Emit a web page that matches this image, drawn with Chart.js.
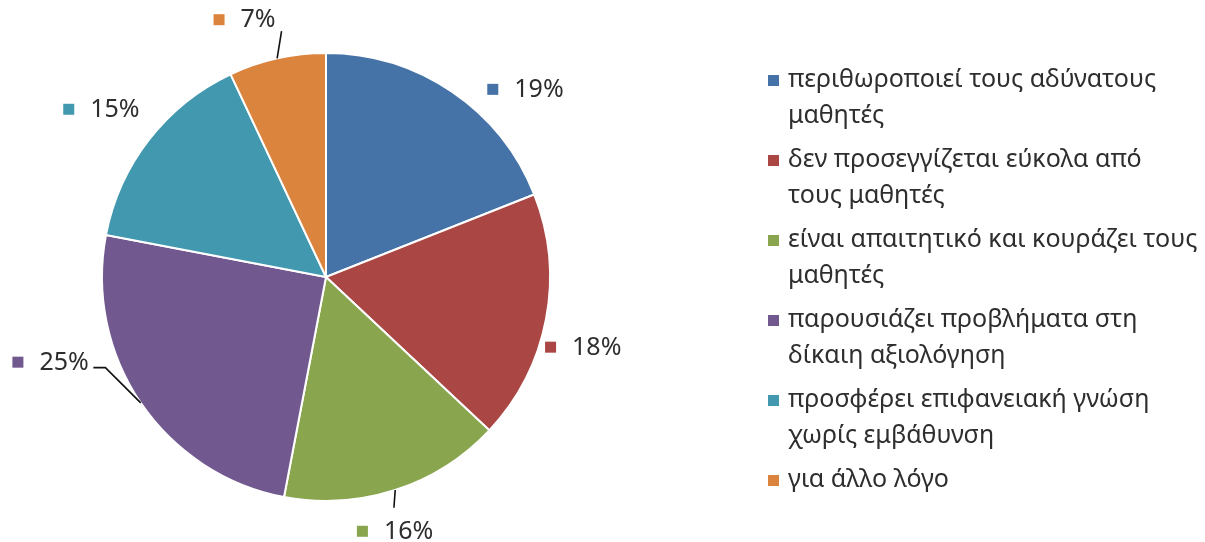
<!DOCTYPE html>
<html>
<head>
<meta charset="utf-8">
<script src="https://cdn.jsdelivr.net/npm/chart.js@4/dist/chart.umd.min.js"></script>
<style>
  html, body { margin: 0; padding: 0; background: #ffffff; }
  #wrap { position: relative; width: 1205px; height: 542px; }
</style>
</head>
<body>
<div id="wrap"><canvas id="pie"></canvas></div>
<script>
// Reasons, in slice order (clockwise from 12 o'clock); "\n" marks the legend line break
const categories = [
  'περιθωροποιεί τους αδύνατους\nμαθητές',
  'δεν προσεγγίζεται εύκολα από\nτους μαθητές',
  'είναι απαιτητικό και κουράζει τους\nμαθητές',
  'παρουσιάζει προβλήματα στη\nδίκαιη αξιολόγηση',
  'προσφέρει επιφανειακή γνώση\nχωρίς εμβάθυνση',
  'για άλλο λόγο'
];
// Percentage share of each reason
const shares = [19, 18, 16, 25, 15, 7];
// Slice colours
const sliceColors = ['#4572A7', '#AA4643', '#89A54E', '#71588F', '#4198AF', '#DB843D'];

// Where each percentage label sits, relative to the pie centre (in radii),
// plus optional leader-line points given in pixels from the label anchor.
const labelSpots = [
  { dx: 0.72,   dy: -0.84 },
  { dx: 0.978,  dy: 0.311 },
  { dx: 0.138,  dy: 1.133, leader: [[37, -23]] },
  { dx: -1.40,  dy: 0.378, leader: [[93, 6], [81, 6]] },
  { dx: -1.173, dy: -0.751 },
  { dx: -0.502, dy: -1.151, leader: [[68, 12]] }
];

const FONT = '"Noto Sans", "DejaVu Sans", sans-serif';
const FONT_SIZE = 25;
const TEXT_COLOR = '#2e2e2e';

const sliceLabels = {
  id: 'sliceLabels',
  afterDatasetsDraw(chart) {
    const ctx = chart.ctx;
    const meta = chart.getDatasetMeta(0);
    const colors = chart.data.datasets[0].backgroundColor;
    const values = chart.data.datasets[0].data;
    ctx.save();
    meta.data.forEach((arc, i) => {
      const p = arc.getProps(['x', 'y', 'startAngle', 'endAngle', 'outerRadius'], true);
      const mid = (p.startAngle + p.endAngle) / 2;
      const spot = labelSpots[i];
      const ax = p.x + spot.dx * p.outerRadius;
      const ay = p.y + spot.dy * p.outerRadius;
      if (spot.leader) {
        ctx.beginPath();
        ctx.moveTo(p.x + Math.cos(mid) * p.outerRadius, p.y + Math.sin(mid) * p.outerRadius);
        spot.leader.forEach(pt => ctx.lineTo(ax + pt[0], ay + pt[1]));
        ctx.strokeStyle = '#111111';
        ctx.lineWidth = 1.6;
        ctx.stroke();
      }
      ctx.fillStyle = colors[i];
      ctx.fillRect(ax, ay - 5, 11, 11);
      ctx.fillStyle = TEXT_COLOR;
      ctx.font = FONT_SIZE + 'px ' + FONT;
      ctx.textAlign = 'left';
      ctx.textBaseline = 'middle';
      ctx.fillText(values[i] + '%', ax + 27, ay + 1);
    });
    ctx.restore();
  }
};

const sideLegend = {
  id: 'sideLegend',
  afterDraw(chart) {
    const ctx = chart.ctx;
    const colors = chart.data.datasets[0].backgroundColor;
    const left = 768, textLeft = 788, lineH = 36, entryGap = 8;
    let y = 80;
    ctx.save();
    ctx.font = FONT_SIZE + 'px ' + FONT;
    ctx.textAlign = 'left';
    ctx.textBaseline = 'middle';
    chart.data.labels.forEach((label, i) => {
      const lines = label.split('\n');
      ctx.fillStyle = colors[i];
      ctx.fillRect(left, y - 5, 11, 11);
      ctx.fillStyle = TEXT_COLOR;
      lines.forEach((ln, k) => ctx.fillText(ln, textLeft, y + k * lineH));
      y += lines.length * lineH + entryGap;
    });
    ctx.restore();
  }
};

new Chart(document.getElementById('pie'), {
  type: 'pie',
  data: {
    labels: categories,
    datasets: [{
      data: shares,
      backgroundColor: sliceColors,
      borderColor: '#ffffff',
      borderWidth: 2
    }]
  },
  options: {
    responsive: true,
    maintainAspectRatio: false,
    animation: false,
    layout: { padding: { left: 101, right: 654, top: 52, bottom: 40 } },
    plugins: { legend: { display: false }, tooltip: { enabled: false } }
  },
  plugins: [sliceLabels, sideLegend]
});
</script>
</body>
</html>
